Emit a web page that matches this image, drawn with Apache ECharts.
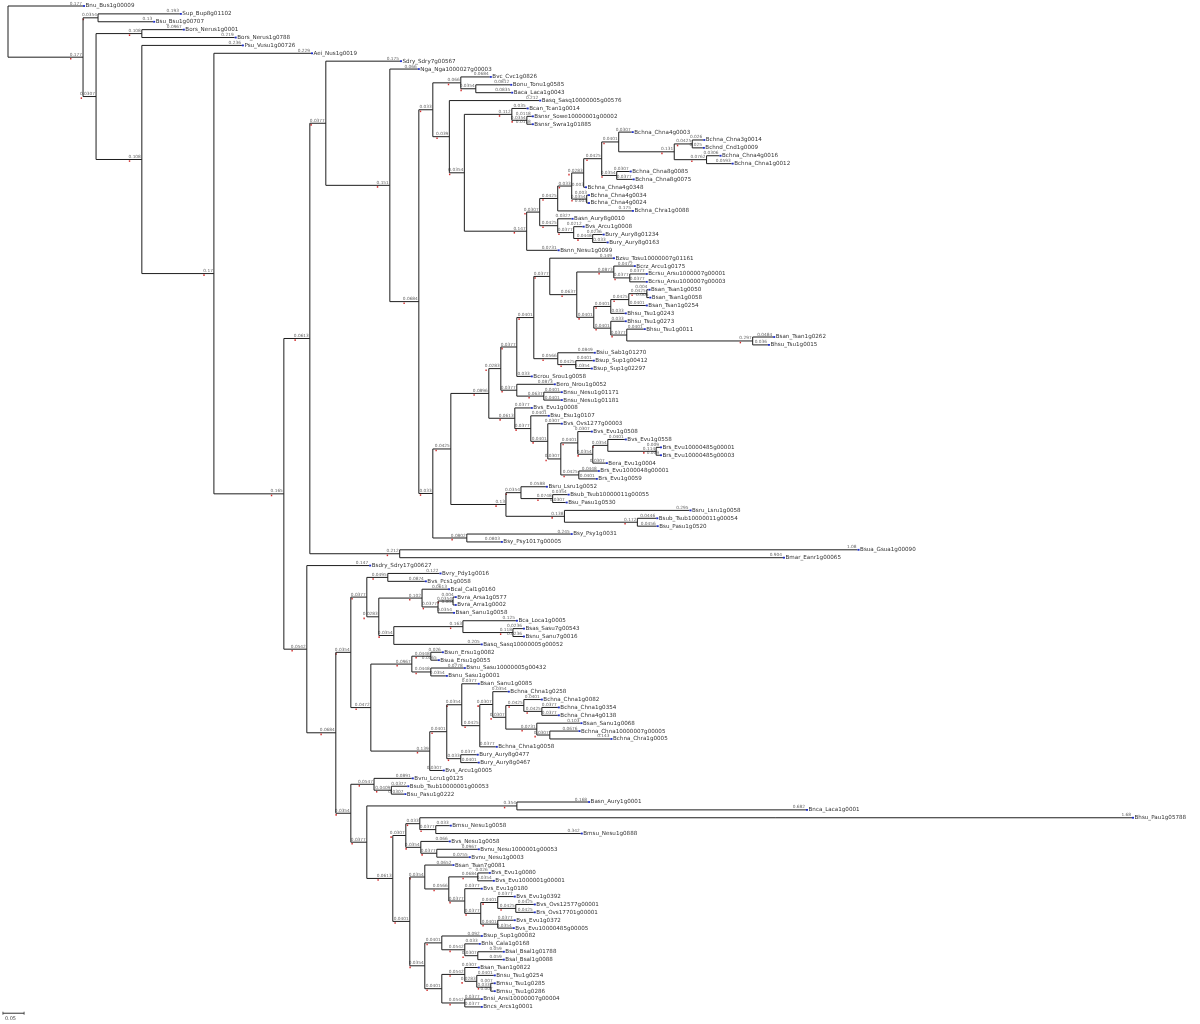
<!DOCTYPE html>
<html><head><meta charset="utf-8">
<script src="https://cdn.jsdelivr.net/npm/echarts@6/dist/echarts.min.js"></script>
<style>html,body{margin:0;padding:0;background:#fff}#c{width:1200px;height:1024px}</style>
</head><body><div id="c"></div>
<script>
// Each clade: [id, firstChild, firstLength, secondChild, secondLength]; names not defined as clades are leaves.
const backboneClades = [
  ["root","Bnu_Bus1g00009",0.177,"n1",0.177],
  ["n1","n2",0.0354,"n3",0.0307],
  ["n2","Sup_Bup8g01102",0.193,"Bsu_Bsu1g00707",0.130],
  ["n3","n4",0.108,"n5",0.108],
  ["n4","Bors_Nerus1g0001",0.0967,"Bors_Nerus1g0788",0.219],
  ["n5","Psu_Vusu1g00726",0.236,"d",0.170],
  ["d","Aei_Nus1g0019",0.229,"e",0.165],
  ["e","f",0.0613,"ac",0.0542],
  ["f","n6",0.0377,"f2",0.212],
  ["f2","Bsua_Gsua1g00090",1.08,"Bmar_Eanr1g00065",0.904],
  ["n6","Sdry_Sdry7g00567",0.175,"n7",0.151],
  ["n7","Nga_Nga1000027g00003",0.066,"g",0.0684],
  ["g","n8",0.033,"p",0.033]
];
const upperClades = [
  ["n8","n9",0.066,"n11",0.039],
  ["n9","Bvc_Cvc1g0826",0.0684,"n10",0.0354],
  ["n10","Bonu_Tonu1g0585",0.0812,"Baca_Laca1g0043",0.0835],
  ["n11","Basq_Sasq10000005g00576",0.212,"n12",0.0354],
  ["n12","n13",0.112,"o",0.147],
  ["n13","Bcan_Tcan1g0014",0.035,"n14",0.0354],
  ["n14","Bsnsr_Sowe10000001g00002",0.0118,"Bsnsr_Swra1g01885",0.0118],
  ["o","k",0.0307,"Bsnn_Nesu1g0099",0.0731],
  ["k","j",0.0425,"l",0.0425],
  ["j","h",0.033,"Bchna_Chra1g0088",0.175],
  ["h","gg",0.0283,"i",0.0354],
  ["gg","ee",0.0425,"Bchna_Chna4g0348",0.003],
  ["ee","dd",0.0401,"ff",0.0354],
  ["dd","Bchna_Chna4g0003",0.0307,"cc",0.131],
  ["cc","aa",0.0425,"bb",0.0762],
  ["aa","Bchna_Chna3g0014",0.026,"Bchnd_Cnd1g0009",0.025],
  ["bb","Bchna_Chna4g0016",0.0306,"Bchna_Chna1g0012",0.0593],
  ["ff","Bchna_Chna8g0085",0.0307,"Bchna_Chna8g0075",0.0377],
  ["i","Bchna_Chna4g0034",0.003,"Bchna_Chna4g0024",0.003],
  ["l","Basn_Aury8g0010",0.0327,"m",0.0377],
  ["m","Bvs_Arcu1g0008",0.0212,"nn",0.0448],
  ["nn","Bury_Aury8g01234",0.0236,"Bury_Aury8g0163",0.033]
];
const middleClades = [
  ["p","q",0.0425,"p2",0.0802],
  ["p2","Bsy_Psy1g0031",0.245,"Bsy_Psy1017g00005",0.0803],
  ["q","s",0.0896,"r",0.130],
  ["s","t",0.0283,"s2",0.0613],
  ["t","u",0.0377,"t2",0.0377],
  ["u","v",0.0401,"Bcrou_Srou1g0058",0.033],
  ["v","w",0.0377,"v2",0.0566],
  ["w","Bzsu_Tosu10000007g01161",0.149,"x",0.0637],
  ["x","y",0.0873,"z",0.0401],
  ["y","Bcrz_Arcu1g0175",0.0472,"y2",0.0377],
  ["y2","Bcrsu_Arsu1000007g00001",0.0377,"Bcrsu_Arsu1000007g00003",0.0377],
  ["z","z1",0.0401,"z2",0.0401],
  ["z1","ab",0.0425,"Bhsu_Tsu1g0243",0.033],
  ["ab","a2",0.0425,"Bsan_Tsan1g0254",0.0401],
  ["a2","Bsan_Tsan1g0050",0.004,"Bsan_Tsan1g0058",0.006],
  ["z2","Bhsu_Tsu1g0273",0.033,"z3",0.0377],
  ["z3","Bhsu_Tsu1g0011",0.0401,"z4",0.297],
  ["z4","Bsan_Tsan1g0262",0.0484,"Bhsu_Tsu1g0015",0.036],
  ["v2","Bsiu_Sab1g01270",0.0849,"v3",0.0425],
  ["v3","Bsup_Sup1g00412",0.0401,"Bsup_Sup1g02297",0.0354],
  ["t2","Bero_Nrou1g0052",0.0873,"t3",0.0637],
  ["t3","Bnsu_Nesu1g01171",0.0401,"Bnsu_Nesu1g01181",0.0401],
  ["s2","Bvs_Evu1g0008",0.0377,"s3",0.0377],
  ["s3","Bsu_Esu1g0107",0.0401,"s4",0.0401],
  ["s4","Bvs_Ovs1277g00003",0.0307,"s5",0.0307],
  ["s5","s6",0.0401,"s10",0.0425],
  ["s6","Bvs_Evu1g0508",0.0307,"s7",0.0354],
  ["s7","s8",0.0354,"Bera_Evu1g0004",0.0307],
  ["s8","Bvs_Evu1g0558",0.0401,"s9",0.114],
  ["s9","Brs_Evu10000485g00001",0.009,"Brs_Evu10000485g00003",0.009],
  ["s10","Brs_Evu1000048g00001",0.0448,"Brs_Evu1g0059",0.0401],
  ["r","r1",0.0354,"r3",0.138],
  ["r1","Bsru_Lsru1g0052",0.0588,"r2",0.0748],
  ["r2","Bsub_Tsub10000011g00055",0.0354,"Bsu_Pasu1g0530",0.0307],
  ["r3","Bsru_Lsru1g0058",0.295,"r4",0.172],
  ["r4","Bsub_Tsub10000011g00054",0.0446,"Bsu_Pasu1g0520",0.0456]
];
const lowerClades = [
  ["ac","Bsdry_Sdry17g00627",0.147,"ad",0.0684],
  ["ad","ae",0.0354,"aj",0.0354],
  ["ae","af",0.0377,"ag",0.0472],
  ["af","af1",0.0495,"af2",0.0283],
  ["af1","Bvry_Pdy1g0016",0.122,"Bvs_Pcs1g0058",0.0874],
  ["af2","af3",0.102,"af6",0.0354],
  ["af3","Bcal_Cal1g0160",0.0613,"af4",0.0377],
  ["af4","af5",0.0354,"Bsan_Sanu1g0058",0.0354],
  ["af5","Bvra_Arsa1g0577",0.004,"Bvra_Arra1g0002",0.004],
  ["af6","af7",0.163,"Basq_Sasq10000005g00052",0.205],
  ["af7","Bca_Loca1g0005",0.125,"af8",0.118],
  ["af8","Bsas_Sasu7g00543",0.0236,"Bsnu_Sanu7g0016",0.0236],
  ["ag","ag1",0.0967,"ah",0.139],
  ["ag1","ag2",0.0448,"ag3",0.0448],
  ["ag2","Bsun_Ersu1g0082",0.026,"Bsua_Ersu1g0055",0.0165],
  ["ag3","Bsnu_Sasu10000005g00432",0.0778,"Bsnu_Sasu1g0001",0.0354],
  ["ah","ai",0.0401,"Bvs_Arcu1g0005",0.0307],
  ["ai","ai1",0.0354,"ai9",0.033],
  ["ai1","Bsan_Sanu1g0085",0.0377,"ai2",0.0425],
  ["ai2","ai3",0.0307,"Bchna_Chna1g0058",0.0377],
  ["ai3","Bchna_Chna1g0258",0.0354,"ai4",0.0307],
  ["ai4","ai5",0.0425,"ai7",0.0731],
  ["ai5","Bchna_Chna1g0082",0.0401,"ai6",0.0425],
  ["ai6","Bchna_Chna1g0354",0.0377,"Bchna_Chna4g0138",0.0377],
  ["ai7","Bsan_Sanu1g0068",0.103,"ai8",0.0307],
  ["ai8","Bchna_Chna10000007g00005",0.0676,"Bchna_Chra1g0005",0.143],
  ["ai9","Bury_Aury8g0477",0.0377,"Bury_Aury8g0467",0.0401]
];
const bottomClades = [
  ["aj","aj1",0.0547,"ak",0.0377],
  ["aj1","Bvru_Lcru1g0125",0.0891,"aj2",0.0409],
  ["aj2","Bsub_Tsub10000001g00053",0.0377,"Bsu_Pasu1g0222",0.0307],
  ["ak","ak1",0.354,"ak2",0.0613],
  ["ak1","Basn_Aury1g0001",0.168,"Bnca_Laca1g0001",0.682],
  ["ak2","ak3",0.0307,"ak8",0.0401],
  ["ak3","ak4",0.033,"ak6",0.0354],
  ["ak4","Bhsu_Pau1g05788",1.68,"ak5",0.0377],
  ["ak5","Bmsu_Nesu1g0058",0.033,"Bmsu_Nesu1g0888",0.342],
  ["ak6","Bvs_Nesu1g0058",0.066,"ak7",0.0377],
  ["ak7","Bvnu_Nesu1000001g00053",0.0967,"Bvnu_Nesu1g0003",0.0755],
  ["ak8","ak9",0.0354,"ak17",0.0354],
  ["ak9","Bsan_Tsan7g0081",0.0652,"ak10",0.0566],
  ["ak10","ak11",0.0684,"ak12",0.0377],
  ["ak11","Bvs_Evu1g0080",0.026,"Bvs_Evu1000001g00001",0.0354],
  ["ak12","Bvs_Evu1g0180",0.0377,"ak13",0.0377],
  ["ak13","ak14",0.0401,"ak16",0.0401],
  ["ak14","Bvs_Evu1g0392",0.0377,"ak15",0.0425],
  ["ak15","Bvs_Ovs12577g00001",0.0425,"Brs_Ovs17701g00001",0.0425],
  ["ak16","Bvs_Evu1g0372",0.0377,"Bvs_Evu10000485g00005",0.0354],
  ["ak17","ak18",0.0401,"ak21",0.0401],
  ["ak18","Bsup_Sup1g00082",0.092,"ak19",0.0542],
  ["ak19","Bnls_Cala1g0168",0.033,"ak20",0.0307],
  ["ak20","Bsal_Bsal1g01788",0.059,"Bsal_Bsal1g0088",0.059],
  ["ak21","ak22",0.0542,"ak25",0.0542],
  ["ak22","Bsan_Tsan1g0822",0.0307,"ak23",0.0283],
  ["ak23","Bnsu_Tsu1g0254",0.0401,"ak24",0.033],
  ["ak24","Bmsu_Tsu1g0285",0.007,"Bmsu_Tsu1g0286",0.007],
  ["ak25","Bnsi_Ansi10000007g00004",0.0377,"Bncs_Arcs1g0001",0.0377]
];
const scaleBar = [0.05];
const scaleBarLabel = "0.05";

const cladeMap = {};
[].concat(backboneClades, upperClades, middleClades, lowerClades, bottomClades).forEach(c => { cladeMap[c[0]] = c; });
const nodes = [];
let leafCounter = 0;
function build(id, parentDepth, len) {
  const depth = parentDepth + len;
  const node = { id, parentDepth, depth, len, leaf: !cladeMap[id] };
  const c = cladeMap[id];
  if (!c) { node.y = leafCounter++; node.y0 = node.y; node.y1 = node.y; }
  else {
    const a = build(c[1], depth, c[2]);
    const b = build(c[3], depth, c[4]);
    node.y0 = a.y; node.y1 = b.y; node.y = (a.y + b.y) / 2;
  }
  nodes.push(node);
  return node;
}
build("root", 0, 0);
const nLeaves = leafCounter;

function fmt(v) { return Number(v.toPrecision(3)).toString(); }
const FONT = 'DejaVu Sans';

const chart = echarts.init(document.getElementById('c'), null, { renderer: 'canvas' });
chart.setOption({
  animation: false,
  backgroundColor: '#fff',
  grid: { left: 8, right: 5, top: 6, bottom: 9.2 },
  xAxis: { type: 'value', min: 0, max: 2.8, show: false },
  yAxis: { type: 'value', min: 0, max: nLeaves, inverse: true, show: false },
  series: [
    {
      type: 'custom', coordinateSystem: 'cartesian2d', clip: false, silent: true,
      data: nodes.map(n => [n.parentDepth, n.depth, n.y, n.y0, n.y1]),
      encode: { x: [0, 1], y: [2, 3, 4] },
      renderItem: function (params, api) {
        const n = nodes[params.dataIndex];
        const p0 = api.coord([n.parentDepth, n.y]);
        const p1 = api.coord([n.depth, n.y]);
        const els = [];
        if (n.len > 0) {
          els.push({ type: 'line', shape: { x1: p0[0], y1: p1[1], x2: p1[0], y2: p1[1] },
            style: { stroke: '#1e1e1e', lineWidth: 1 } });
          const lbl = fmt(n.len);
          els.push({ type: 'text', style: { text: lbl, x: p1[0] - 1, y: p1[1] - 0.6,
            align: 'right', verticalAlign: 'bottom', fontSize: 4.3, fontFamily: FONT, fill: '#666' } });
          if (!n.leaf) {
            els.push({ type: 'rect', shape: { x: p1[0] - lbl.length * 2.4 - 1, y: p1[1] + 0.8, width: 1.4, height: 1.6 },
              style: { fill: '#d23030' } });
          }
        }
        if (!n.leaf) {
          const a = api.coord([n.depth, n.y0]);
          const b = api.coord([n.depth, n.y1]);
          els.push({ type: 'line', shape: { x1: a[0], y1: a[1], x2: b[0], y2: b[1] },
            style: { stroke: '#1e1e1e', lineWidth: 1 } });
        } else {
          els.push({ type: 'rect', shape: { x: p1[0], y: p1[1] - 0.9, width: 2, height: 1.8 },
            style: { fill: '#2030c8' } });
          els.push({ type: 'text', style: { text: n.id, x: p1[0] + 2.5, y: p1[1],
            align: 'left', verticalAlign: 'middle', fontSize: 5.6, fontFamily: FONT, fill: '#333' } });
        }
        return { type: 'group', children: els };
      }
    },
    {
      type: 'custom', coordinateSystem: 'cartesian2d', clip: false, silent: true,
      data: scaleBar.map(v => [v]),
      renderItem: function (params, api) {
        const len = api.value(0);
        const start = -0.012;
        const a = api.coord([start, nLeaves - 0.2]);
        const b = api.coord([start + len, nLeaves - 0.2]);
        return { type: 'group', children: [
          { type: 'line', shape: { x1: a[0], y1: a[1], x2: b[0], y2: b[1] }, style: { stroke: '#333', lineWidth: 1 } },
          { type: 'line', shape: { x1: a[0], y1: a[1] - 1.5, x2: a[0], y2: a[1] + 1.5 }, style: { stroke: '#333', lineWidth: 0.8 } },
          { type: 'line', shape: { x1: b[0], y1: b[1] - 1.5, x2: b[0], y2: b[1] + 1.5 }, style: { stroke: '#333', lineWidth: 0.8 } },
          { type: 'text', style: { text: scaleBarLabel, x: a[0] + 2, y: a[1] + 2.5, align: 'left', verticalAlign: 'top',
            fontSize: 5, fontFamily: FONT, fill: '#444' } }
        ] };
      }
    }
  ]
});
</script>
</body></html>
